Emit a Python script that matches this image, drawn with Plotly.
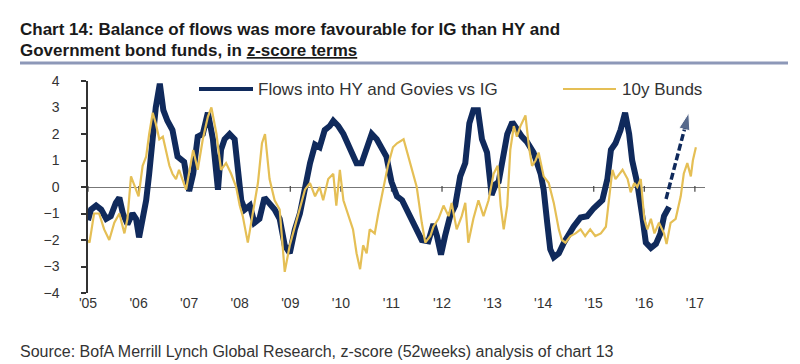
import plotly.graph_objects as go

# ---------------- data ----------------
flows_x = [2005.00, 2005.06, 2005.16, 2005.26, 2005.36, 2005.45, 2005.55, 2005.62, 2005.69, 2005.78,
           2005.88, 2005.95, 2006.01, 2006.08, 2006.15, 2006.21, 2006.28, 2006.34, 2006.42, 2006.49,
           2006.57, 2006.67, 2006.77, 2006.90, 2007.00, 2007.08, 2007.17, 2007.27, 2007.37, 2007.47,
           2007.57, 2007.63, 2007.70, 2007.80, 2007.90, 2007.96, 2008.03, 2008.10, 2008.20, 2008.29,
           2008.39, 2008.49, 2008.59, 2008.69, 2008.79, 2008.89, 2008.99, 2009.09, 2009.19, 2009.29,
           2009.39, 2009.49, 2009.58, 2009.68, 2009.78, 2009.85, 2009.95, 2010.05, 2010.18, 2010.31,
           2010.41, 2010.51, 2010.61, 2010.71, 2010.80, 2010.90, 2011.00, 2011.11, 2011.21, 2011.30,
           2011.40, 2011.50, 2011.60, 2011.73, 2011.83, 2011.90, 2011.98, 2012.06, 2012.16, 2012.26,
           2012.36, 2012.46, 2012.54, 2012.62, 2012.71, 2012.79, 2012.89, 2012.98, 2013.06, 2013.12,
           2013.19, 2013.29, 2013.39, 2013.48, 2013.58, 2013.68, 2013.81, 2013.95, 2014.01, 2014.08,
           2014.14, 2014.21, 2014.31, 2014.41, 2014.51, 2014.60, 2014.74, 2014.87, 2015.00, 2015.17,
           2015.27, 2015.34, 2015.43, 2015.53, 2015.62, 2015.70, 2015.76, 2015.86, 2015.96, 2016.03,
           2016.13, 2016.23, 2016.32, 2016.39, 2016.49]
flows_y = [-1.25, -0.85, -0.70, -0.85, -1.20, -1.10, -0.60, -0.40, -1.00, -1.40,
           -1.00, -1.20, -1.90, -1.20, -0.50, 0.50, 2.00, 3.00, 3.90, 2.90,
           2.50, 2.15, 1.15, 0.95, -0.15, 0.50, 1.90, 2.00, 2.80, 1.80,
           -0.10, 1.40, 1.80, 2.00, 1.80, 0.80, -0.50, -0.85, -0.70, -1.35,
           -1.20, -0.40, -0.60, -0.85, -1.20, -2.20, -2.50, -1.60, -1.00, 0.00,
           0.90, 1.60, 1.50, 2.15, 2.30, 2.50, 2.30, 2.00, 1.40, 0.90,
           0.90, 1.50, 2.00, 1.80, 1.50, 1.15, 0.20, -0.35, -0.50, -0.85,
           -1.20, -1.60, -2.00, -2.05, -1.40, -1.85, -2.55, -1.85, -1.10, -0.70,
           0.40, 0.90, 2.40, 2.90, 2.90, 1.80, 1.30, -0.30, 0.10, 0.20,
           1.00, 2.00, 2.45, 2.15, 1.90, 1.70, 1.30, 0.50, -0.10, -1.35,
           -2.35, -2.65, -2.50, -2.10, -1.75, -1.50, -1.15, -1.10, -0.80, -0.50,
           0.30, 1.40, 1.65, 2.15, 2.80, 2.00, 1.00, 0.15, -1.10, -2.10,
           -2.30, -2.15, -1.75, -1.10, -0.75]

bunds_x = [2005.00, 2005.03, 2005.12, 2005.22, 2005.32, 2005.42, 2005.52, 2005.62, 2005.72, 2005.78,
           2005.85, 2005.95, 2006.00, 2006.08, 2006.15, 2006.21, 2006.28, 2006.34, 2006.41, 2006.48,
           2006.54, 2006.61, 2006.67, 2006.74, 2006.80, 2006.94, 2007.08, 2007.17, 2007.27, 2007.37,
           2007.44, 2007.54, 2007.63, 2007.73, 2007.83, 2007.93, 2008.00, 2008.06, 2008.16, 2008.26,
           2008.36, 2008.44, 2008.50, 2008.59, 2008.69, 2008.79, 2008.89, 2008.99, 2009.09, 2009.19,
           2009.29, 2009.39, 2009.49, 2009.58, 2009.65, 2009.75, 2009.85, 2009.91, 2009.98, 2010.05,
           2010.14, 2010.24, 2010.31, 2010.38, 2010.44, 2010.51, 2010.57, 2010.67, 2010.74, 2010.84,
           2010.93, 2011.03, 2011.11, 2011.24, 2011.30, 2011.40, 2011.50, 2011.60, 2011.67, 2011.77,
           2011.83, 2011.93, 2012.03, 2012.13, 2012.19, 2012.29, 2012.39, 2012.46, 2012.52, 2012.62,
           2012.72, 2012.82, 2012.92, 2013.02, 2013.10, 2013.16, 2013.22, 2013.29, 2013.35, 2013.42,
           2013.48, 2013.55, 2013.65, 2013.72, 2013.78, 2013.85, 2013.91, 2014.01, 2014.11, 2014.21,
           2014.31, 2014.37, 2014.44, 2014.54, 2014.64, 2014.74, 2014.83, 2014.93, 2015.03, 2015.14,
           2015.24, 2015.30, 2015.37, 2015.43, 2015.50, 2015.57, 2015.67, 2015.73, 2015.80, 2015.86,
           2015.93, 2016.00, 2016.06, 2016.13, 2016.20, 2016.29, 2016.39, 2016.44, 2016.52, 2016.62,
           2016.72, 2016.78, 2016.85, 2016.92, 2016.96, 2017.02]
bunds_y = [-2.00, -2.10, -1.00, -1.00, -1.60, -2.00, -1.35, -1.00, -1.75, -1.20,
           0.40, -0.10, -0.35, 0.80, 1.15, 2.00, 2.80, 2.40, 1.80, 1.90,
           1.40, 0.80, 0.50, 0.30, 0.65, -0.10, 1.40, 0.65, 1.80, 2.65,
           3.00, 2.00, 0.65, 0.90, 0.50, 0.00, -0.70, -1.10, -2.10, -1.00,
           0.15, 1.65, 2.00, 0.30, -0.50, -0.85, -3.20, -2.20, -1.50, -0.70,
           -0.10, 0.15, -0.35, 0.00, -0.50, 0.30, 0.50, -0.70, 0.65, -0.50,
           -1.00, -1.60, -2.50, -3.10, -2.20, -2.50, -1.60, -1.75, -1.00, -0.10,
           0.80, 1.50, 1.65, 1.80, 1.40, 0.65, 0.00, -1.35, -2.10, -1.85,
           -1.50, -1.20, -0.70, -1.10, -0.60, -1.60, -1.10, -0.60, -2.10, -1.20,
           -0.50, -1.10, -0.50, 0.50, 0.80, -0.70, -1.60, -0.70, 1.40, 2.30,
           1.90, 2.30, 2.70, 1.50, 0.80, 1.00, 1.30, 0.40, 0.15, -0.60,
           -1.60, -2.00, -2.10, -1.85, -1.75, -1.60, -1.85, -1.60, -1.85, -1.75,
           -1.50, -0.50, 0.65, 0.30, 0.50, 0.65, 0.30, -0.20, 0.15, 0.00,
           0.30, -1.20, -1.60, -1.20, -1.75, -1.35, -1.75, -2.15, -1.35, -1.20,
           -0.35, 0.50, 0.90, 0.40, 1.00, 1.50]

arrow_x = [2016.43, 2016.88]
arrow_y = [-0.45, 2.80]

year_ticks = list(range(2005, 2018))
year_labels = ["'05", "'06", "'07", "'08", "'09", "'10", "'11", "'12", "'13", "'14", "'15", "'16", "'17"]
y_ticks = [4, 3, 2, 1, 0, -1, -2, -3, -4]

title_line1 = "Chart 14: Balance of flows was more favourable for IG than HY and"
title_line2 = "Government bond funds, in <u>z-score terms</u>"
source_text = "Source: BofA Merrill Lynch Global Research, z-score (52weeks) analysis of chart 13"
name_flows = "Flows into HY and Govies vs IG"
name_bunds = "10y Bunds"

# ---------------- styling ----------------
NAVY = "#102a5c"
GOLD = "#e5bf55"
FONT = "Liberation Sans, Arial, sans-serif"
W, H = 800, 364
L, R, T, B = 80, 697, 73, 285   # plot area in pixels


def px(x):
    return (x - L) / (R - L)


def py(y):
    return (B - y) / (B - T)


fig = go.Figure()

# year tick marks on the zero line
fig.add_trace(go.Scatter(x=year_ticks, y=[-0.07] * len(year_ticks), mode="markers",
                         marker=dict(symbol="line-ns-open", size=4, color="#444",
                                     line=dict(color="#444", width=1.2)),
                         showlegend=False, hoverinfo="skip"))

fig.add_trace(go.Scatter(x=flows_x, y=flows_y, mode="lines", name=name_flows,
                         line=dict(color=NAVY, width=6), showlegend=False))
fig.add_trace(go.Scatter(x=bunds_x, y=bunds_y, mode="lines", name=name_bunds,
                         line=dict(color=GOLD, width=2.2), showlegend=False))

# dashed arrow
fig.add_trace(go.Scatter(x=arrow_x, y=arrow_y, mode="lines+markers",
                         line=dict(color=NAVY, width=3.5, dash="7px,3px"),
                         marker=dict(symbol="arrow", size=[0, 18], angleref="previous", color=NAVY),
                         showlegend=False, hoverinfo="skip"))

fig.update_layout(
    width=W, height=H,
    margin=dict(l=L, r=W - R, t=T, b=H - B),
    paper_bgcolor="white", plot_bgcolor="white",
    font=dict(family=FONT, color="#333"),
    showlegend=False,
)
fig.update_xaxes(range=[2005.0, 2017.2], tickvals=year_ticks, ticktext=year_labels,
                 showgrid=False, zeroline=False, showline=False, ticks="",
                 tickfont=dict(size=14, color="#333"), ticklabelstandoff=0)
fig.update_yaxes(range=[-4, 4], tickvals=y_ticks, showgrid=False,
                 zeroline=True, zerolinecolor="#777", zerolinewidth=1,
                 showline=True, linecolor="#333", linewidth=1.5,
                 ticks="outside", ticklen=5, tickcolor="#333", tickwidth=1.5,
                 tickfont=dict(size=14, color="#333"), ticklabelstandoff=19)

# title
fig.add_annotation(text="<b>" + title_line1 + "</b>", x=px(10), y=py(21), xref="paper", yref="paper",
                   xanchor="left", yanchor="middle", showarrow=False,
                   font=dict(family=FONT, size=17, color="#1a1a1a"))
fig.add_annotation(text="<b>" + title_line2 + "</b>", x=px(10), y=py(43), xref="paper", yref="paper",
                   xanchor="left", yanchor="middle", showarrow=False,
                   font=dict(family=FONT, size=17, color="#1a1a1a"))
fig.add_shape(type="line", xref="paper", yref="paper", x0=px(12), x1=px(780), y0=py(55), y1=py(55),
              line=dict(color="#8d98b8", width=3))

# legend (manual)
fig.add_shape(type="line", xref="paper", yref="paper", x0=px(191), x1=px(245), y0=py(81), y1=py(81),
              line=dict(color=NAVY, width=4))
fig.add_annotation(text=name_flows, x=px(248), y=py(81), xref="paper", yref="paper",
                   xanchor="left", yanchor="middle", showarrow=False,
                   font=dict(family=FONT, size=17, color="#333"))
fig.add_shape(type="line", xref="paper", yref="paper", x0=px(555), x1=px(608), y0=py(81), y1=py(81),
              line=dict(color=GOLD, width=2))
fig.add_annotation(text=name_bunds, x=px(612), y=py(81), xref="paper", yref="paper",
                   xanchor="left", yanchor="middle", showarrow=False,
                   font=dict(family=FONT, size=17, color="#333"))

# source
fig.add_annotation(text=source_text, x=px(10), y=py(343), xref="paper", yref="paper",
                   xanchor="left", yanchor="middle", showarrow=False,
                   font=dict(family=FONT, size=16, color="#333"))

fig.write_html("out.html")
